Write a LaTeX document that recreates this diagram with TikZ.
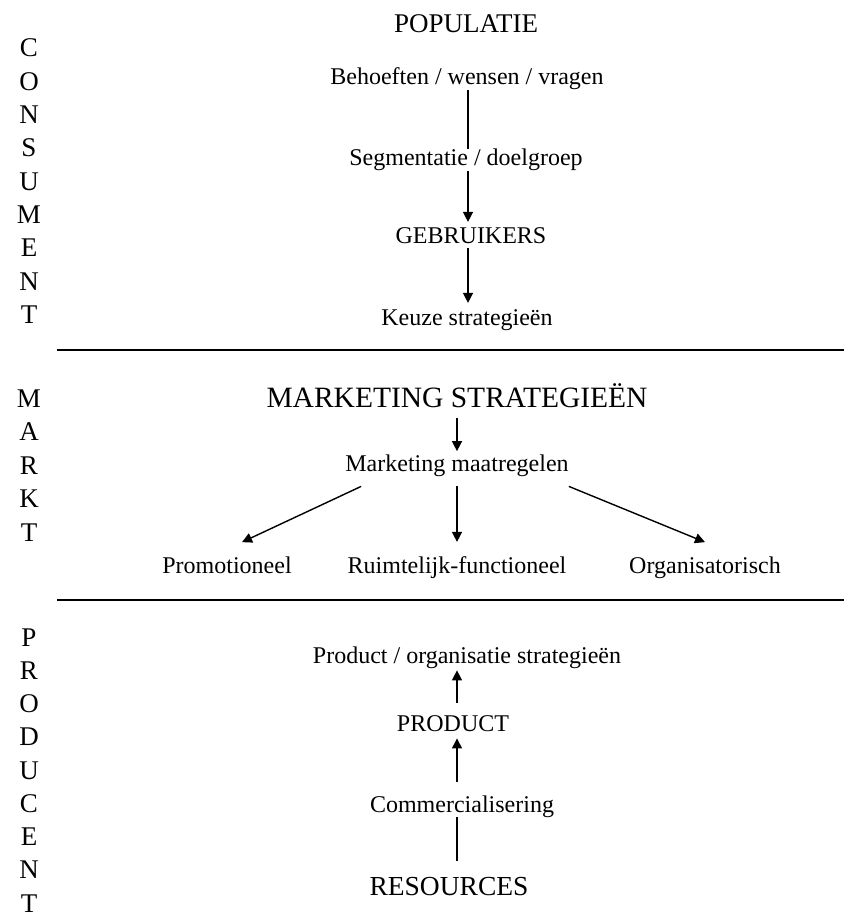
\documentclass[tikz,border=0pt]{standalone}
\usepackage{fontspec}
\setmainfont{Liberation Serif}
\usetikzlibrary{arrows.meta}
\tikzset{
	txt/.style={inner sep=0pt, anchor=base, font=\fontsize{24}{28}\selectfont},
	kop/.style={inner sep=0pt, anchor=base, font=\fontsize{#1}{#1}\selectfont},
	side/.style={inner sep=0pt, anchor=base, font=\fontsize{27}{30}\selectfont},
	pijl/.style={line width=1.4pt}
}
\begin{document}
\begin{tikzpicture}[x=1pt, y=-1pt, line join=round, >={Triangle[length=10pt,width=10pt]}]
			\def\xl{57}\def\xr{844}
			\useasboundingbox[fill=white] (0,0) rectangle (844,912);
			% zijkant
			\foreach \ch [count=\i from 0] in {C,O,N,S,U,M,E,N,T}
				\node[side] (cons\i) at (29,{57+33.3*\i}) {\ch};
			\foreach \ch [count=\i from 0] in {M,A,R,K,T}
				\node[side] (markt\i) at (29,{407+33.5*\i}) {\ch};
			\foreach \ch [count=\i from 0] in {P,R,O,D,U,C,E,N,T}
				\node[side] (prodc\i) at (29,{646+33.25*\i}) {\ch};
			\draw[line width=1.8pt] (\xl,350)--(\xr,350) (\xl,600)--(\xr,600);
			% consument
			\coordinate (axt) at (468,0);
			\node[kop=27] (pop) at (466,33) {POPULATIE};
			\node[txt] (beh) at (467,85) {Behoeften / wensen / vragen};
			\node[txt] (seg) at (466,166) {Segmentatie / doelgroep};
			\node[txt] (gebr) at (471,243) {GEBRUIKERS};
			\node[txt] (keuze) at (467,325) {Keuze strategieën};
			\draw[pijl] (beh.south -| axt) -- (seg.north -| axt);
			\draw[pijl,->,shorten >=5pt] (seg.south -| axt) -- (gebr.north -| axt);
			\draw[pijl,->,shorten <=5pt,shorten >=6pt] (gebr.south -| axt) -- (keuze.north -| axt);
			% markt
			\node[kop=29.5] (mstrat) at (457,407) {MARKETING STRATEGIEËN};
			\node[txt] (mm) at (457,471) {Marketing maatregelen};
			\node[txt] (promo) at (227,573) {Promotioneel};
			\node[txt] (ruim) at (457,573) {Ruimtelijk-functioneel};
			\node[txt] (org) at (705,573) {Organisatorisch};
			\draw[pijl,->,shorten <=11pt,shorten >=3pt] (mstrat) -- (mm);
			\draw[pijl,->] ([shift={(16pt,-10pt)}]mm.south west) -- ([shift={(15pt,14pt)}]promo.north);
			\draw[pijl,->,shorten <=10pt,shorten >=14pt] (mm) -- (ruim);
			\draw[pijl,->] ([yshift=-10pt]mm.south east) -- ([yshift=14pt]org.north);
			% producent
			\coordinate (axb) at (457,0);
			\node[txt] (prodorg) at (467,663) {Product / organisatie strategieën};
			\node[txt] (prod) at (453,731) {PRODUCT};
			\node[txt] (comm) at (462,812) {Commercialisering};
			\node[kop=27.5] (res) at (449,895) {RESOURCES};
			\draw[pijl,->,shorten <=12pt,shorten >=2pt] (prod.north -| axb) -- (prodorg.south -| axb);
			\draw[pijl,->,shorten <=13pt,shorten >=7pt] (comm.north -| axb) -- (prod.south -| axb);
			\draw[pijl,shorten <=16pt] (res.north -| axb) -- (comm.south -| axb);
		\end{tikzpicture}
\end{document}
